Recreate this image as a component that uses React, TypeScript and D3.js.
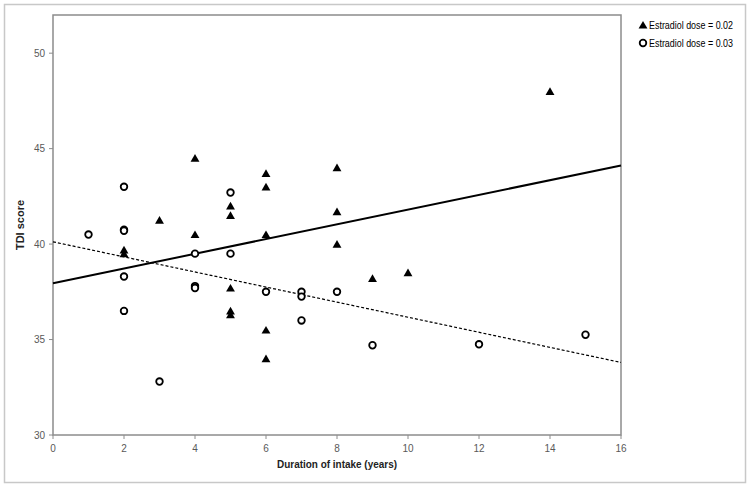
import React from "react";
import * as d3 from "d3";

// Estradiol dose = 0.02 (filled triangles)
const dose002X = [2, 2, 3, 4, 4, 5, 5, 5, 5, 5, 6, 6, 6, 6, 6, 8, 8, 8, 9, 10, 14];
const dose002Y = [39.7, 39.5, 41.25, 44.5, 40.5, 42.0, 41.5, 37.7, 36.5, 36.3, 43.7, 43.0, 40.5, 35.5, 34.0, 44.0, 41.7, 40.0, 38.2, 38.5, 48.0];

// Estradiol dose = 0.03 (open circles)
const dose003X = [1, 2, 2, 2, 2, 2, 3, 4, 4, 4, 5, 5, 6, 7, 7, 7, 8, 9, 12, 15];
const dose003Y = [40.5, 43.0, 40.75, 40.7, 38.3, 36.5, 32.8, 39.5, 37.8, 37.7, 42.7, 39.5, 37.5, 37.5, 37.25, 36.0, 37.5, 34.7, 34.75, 35.25];

// Fitted trend lines (endpoints at x = 0 and x = 16)
const trendX = [0, 16];
const trend002Y = [37.95, 44.12];
const trend003Y = [40.12, 33.8];

const xTicks = [0, 2, 4, 6, 8, 10, 12, 14, 16];
const yTicks = [30, 35, 40, 45, 50];

const legendLabels = ["Estradiol dose = 0.02", "Estradiol dose = 0.03"];

const xTitle = "Duration of intake (years)";
const yTitle = "TDI score";

export default function App() {
  const W = 750;
  const H = 488;
  const left = 53;
  const right = 621;
  const top = 15;
  const bottom = 435;

  const x = d3.scaleLinear().domain([0, 16]).range([left, right]);
  const y = d3.scaleLinear().domain([30, 52]).range([bottom, top]);

  const axisColor = "#8c8c8c";
  const textColor = "#595959";
  const font = "'Liberation Sans', Arial, sans-serif";

  const tri = d3.symbol().type(d3.symbolTriangle).size(34);
  const line = d3
    .line<[number, number]>()
    .x((d) => x(d[0]))
    .y((d) => y(d[1]));

  const t002: [number, number][] = trendX.map((v, i) => [v, trend002Y[i]]);
  const t003: [number, number][] = trendX.map((v, i) => [v, trend003Y[i]]);

  return (
    <svg
      width={W}
      height={H}
      style={{ position: "absolute", left: 0, top: 0, background: "#fff" }}
    >
      {/* outer chart border */}
      <rect x={4.5} y={4.5} width={741} height={478} fill="#fff" stroke="#c8c8c8" strokeWidth={1.5} />

      {/* plot area frame */}
      <rect x={left} y={top} width={right - left} height={bottom - top} fill="none" stroke={axisColor} strokeWidth={1.5} />

      {/* y ticks */}
      {yTicks.map((t) => (
        <g key={"y" + t}>
          <line x1={left - 4} x2={left} y1={y(t)} y2={y(t)} stroke={axisColor} strokeWidth={1} />
          <text
            x={left - 8}
            y={y(t)}
            dy="0.35em"
            textAnchor="end"
            fontFamily={font}
            fontSize={10}
            fill={textColor}
          >
            {t}
          </text>
        </g>
      ))}

      {/* x ticks */}
      {xTicks.map((t) => (
        <g key={"x" + t}>
          <line x1={x(t)} x2={x(t)} y1={bottom} y2={bottom + 4} stroke={axisColor} strokeWidth={1} />
          <text
            x={x(t)}
            y={bottom + 17}
            textAnchor="middle"
            fontFamily={font}
            fontSize={10}
            fill={textColor}
          >
            {t}
          </text>
        </g>
      ))}

      {/* axis titles */}
      <text
        x={(left + right) / 2}
        y={468}
        textAnchor="middle"
        fontFamily={font}
        fontSize={11}
        fontWeight="bold"
        fill="#222"
        textLength={120}
        lengthAdjust="spacingAndGlyphs"
      >
        {xTitle}
      </text>
      <text
        transform={`translate(24,${(top + bottom) / 2}) rotate(-90)`}
        textAnchor="middle"
        fontFamily={font}
        fontSize={11}
        fontWeight="bold"
        fill="#222"
      >
        {yTitle}
      </text>

      {/* trend lines */}
      <path d={line(t003) || ""} fill="none" stroke="#000" strokeWidth={1.2} strokeDasharray="3,2" />
      <path d={line(t002) || ""} fill="none" stroke="#000" strokeWidth={2} />

      {/* circles */}
      {dose003X.map((v, i) => (
        <circle
          key={"c" + i}
          cx={x(v)}
          cy={y(dose003Y[i])}
          r={3.3}
          fill="#fff"
          stroke="#000"
          strokeWidth={1.8}
        />
      ))}

      {/* triangles */}
      {dose002X.map((v, i) => (
        <path
          key={"t" + i}
          d={tri() || ""}
          transform={`translate(${x(v)},${y(dose002Y[i]) + 1})`}
          fill="#000"
        />
      ))}

      {/* legend */}
      <path d={tri() || ""} transform="translate(643,26)" fill="#000" />
      <text x={649} y={25} dy="0.35em" fontFamily={font} fontSize={10} fill="#000" textLength={84} lengthAdjust="spacingAndGlyphs">
        {legendLabels[0]}
      </text>
      <circle cx={643} cy={43} r={3.3} fill="#fff" stroke="#000" strokeWidth={1.8} />
      <text x={649} y={43} dy="0.35em" fontFamily={font} fontSize={10} fill="#000" textLength={84} lengthAdjust="spacingAndGlyphs">
        {legendLabels[1]}
      </text>
    </svg>
  );
}
